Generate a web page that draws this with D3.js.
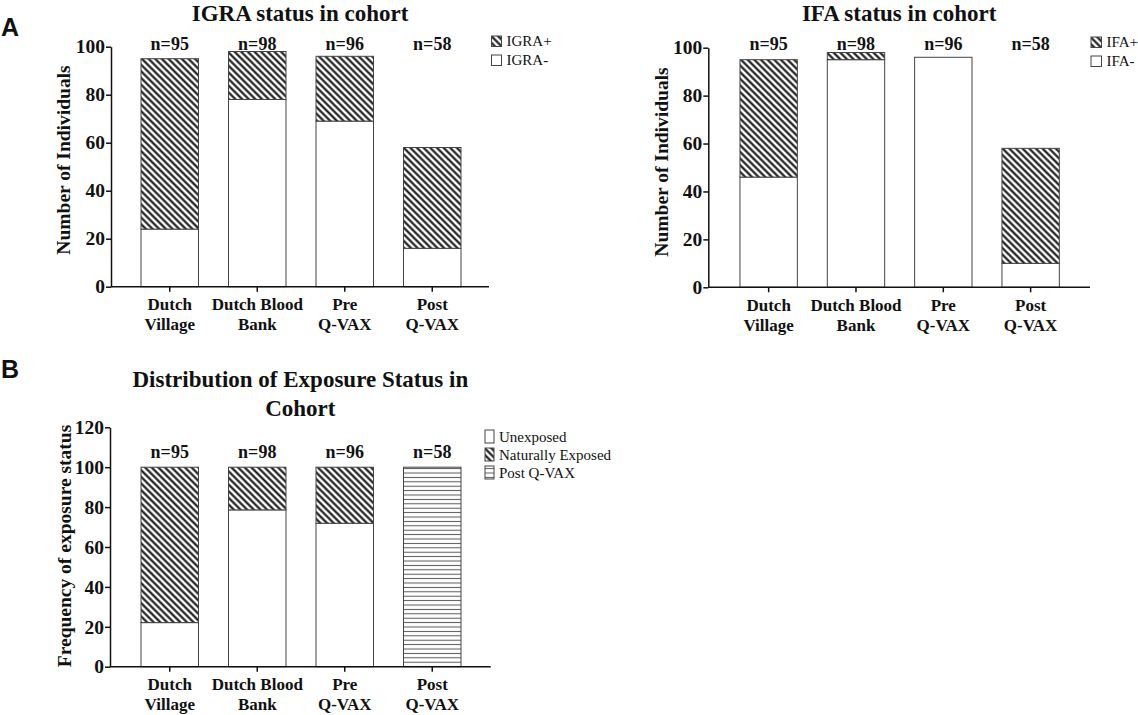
<!DOCTYPE html>
<html>
<head>
<meta charset="utf-8">
<script src="https://cdn.jsdelivr.net/npm/d3@7"></script>
<style>
  body { margin: 0; background: #fff; }
  svg { display: block; }
  text { font-family: "Liberation Serif", "Times New Roman", serif; fill: #111; }
  .panel-letter { font-family: "Liberation Sans", Arial, sans-serif; font-weight: bold; font-size: 25px; }
  .title { font-weight: bold; font-size: 23px; }
  .ylab { font-weight: bold; font-size: 19.5px; }
  .nlab { font-weight: bold; font-size: 18px; }
  .legend text { font-size: 15px; }
  .axis text { font-family: "Liberation Serif", "Times New Roman", serif; font-weight: bold; fill: #111; }
  .axis path, .axis line { stroke: #111; stroke-width: 1.5; }
</style>
</head>
<body>
<main></main>
<script>
const width = 1138;
const height = 715;

// data
const categories = [["Dutch", "Village"], ["Dutch Blood", "Bank"], ["Pre", "Q-VAX"], ["Post", "Q-VAX"]];
const cohortN = [95, 98, 96, 58];

const igraNeg = [24, 78, 69, 16];
const igraPos = [71, 20, 27, 42];

const ifaNeg = [46, 95, 96, 10];
const ifaPos = [49, 3, 0, 48];

const unexposedPct = [22.1, 78.6, 71.9, 0];
const naturalPct = [77.9, 21.4, 28.1, 0];
const postVaxPct = [0, 0, 0, 100];

const countTicks = [0, 20, 40, 60, 80, 100];
const pctTicks = [0, 20, 40, 60, 80, 100, 120];

const svg = d3.select("main")
              .append("svg")
              .attr("width", width)
              .attr("height", height);

const defs = svg.append("defs");

const makePatterns = () => {
    const diag = defs.append("pattern")
                     .attr("id", "diag")
                     .attr("patternUnits", "userSpaceOnUse")
                     .attr("width", 4.7)
                     .attr("height", 4.7)
                     .attr("patternTransform", "rotate(45)");
    diag.append("rect").attr("width", 4.7).attr("height", 4.7).attr("fill", "#fff");
    diag.append("line")
        .attr("x1", 0).attr("x2", 4.7)
        .attr("y1", 2.35).attr("y2", 2.35)
        .attr("stroke", "#111")
        .attr("stroke-width", 2.1);

    const horiz = defs.append("pattern")
                      .attr("id", "horiz")
                      .attr("patternUnits", "userSpaceOnUse")
                      .attr("width", 10)
                      .attr("height", 4.4);
    horiz.append("rect").attr("width", 10).attr("height", 4.4).attr("fill", "#fff");
    horiz.append("line")
         .attr("x1", 0).attr("x2", 10)
         .attr("y1", 2.2).attr("y2", 2.2)
         .attr("stroke", "#555")
         .attr("stroke-width", 1);
};

// one stacked bar panel
const drawPanel = (cfg) => {
    const g = svg.append("g");
    const x = d3.scaleBand()
                .domain(d3.range(categories.length))
                .range(cfg.bandRange)
                .paddingInner(0.343)
                .paddingOuter(0.1715);
    const y = d3.scaleLinear()
                .domain([0, cfg.yMax])
                .range(cfg.yRange);

    // stacked bars, series listed bottom to top
    let base = categories.map(() => 0);
    cfg.series.forEach((s) => {
        const segs = s.values.map((v, i) => ({i: i, y0: base[i], y1: base[i] + v}))
                             .filter((d) => d.y1 > d.y0);
        g.selectAll(null)
         .data(segs)
         .enter()
         .append("rect")
         .attr("x", (d) => x(d.i))
         .attr("width", x.bandwidth())
         .attr("y", (d) => y(d.y1))
         .attr("height", (d) => y(d.y0) - y(d.y1))
         .attr("fill", s.fill)
         .attr("stroke", "#444")
         .attr("stroke-width", 1);
        base = base.map((b, i) => b + s.values[i]);
    });

    // y axis
    g.append("g")
     .attr("class", "axis")
     .attr("transform", `translate(${cfg.axisX},0)`)
     .call(d3.axisLeft(y).tickValues(cfg.ticks).tickSize(5).tickSizeOuter(0).tickPadding(1))
     .selectAll("text")
     .style("font-size", "19.5px");

    // x axis
    const xAxis = g.append("g")
                   .attr("class", "axis")
                   .attr("transform", `translate(0,${cfg.yRange[0]})`)
                   .call(d3.axisBottom(x).tickSize(5).tickSizeOuter(0).tickFormat(""));
    xAxis.select(".domain").remove();
    xAxis.append("line")
         .attr("x1", cfg.axisX)
         .attr("x2", cfg.axisEnd)
         .attr("y1", 0)
         .attr("y2", 0);
    xAxis.selectAll(".tick")
         .append("text")
         .attr("text-anchor", "middle")
         .style("font-size", "17px")
         .selectAll("tspan")
         .data((d) => categories[d])
         .enter()
         .append("tspan")
         .attr("x", 0)
         .attr("y", (d, i) => 23.5 + i * 20)
         .text((d) => d);

    // n labels
    g.selectAll(".nlab")
     .data(cohortN)
     .enter()
     .append("text")
     .attr("class", "nlab")
     .attr("text-anchor", "middle")
     .attr("x", (d, i) => x(i) + x.bandwidth() / 2)
     .attr("y", cfg.nY)
     .text((d) => "n=" + d);

    // title
    const cx = (cfg.axisX + cfg.axisEnd) / 2;
    const t = g.append("text")
               .attr("class", "title")
               .attr("text-anchor", "middle")
               .attr("x", cx)
               .attr("y", cfg.titleY);
    cfg.title.forEach((line, i) => {
        t.append("tspan")
         .attr("x", cx)
         .attr("dy", i === 0 ? 0 : 29)
         .text(line);
    });

    // y label
    g.append("text")
     .attr("class", "ylab")
     .attr("text-anchor", "middle")
     .attr("transform", `translate(${cfg.yLabX},${cfg.yLabY}) rotate(-90)`)
     .text(cfg.yLabel);

    // legend
    const leg = g.append("g").attr("class", "legend");
    cfg.legend.forEach((item, i) => {
        leg.append("rect")
           .attr("x", cfg.legX)
           .attr("y", cfg.legY + i * cfg.legStep)
           .attr("width", cfg.legW)
           .attr("height", cfg.legH)
           .attr("fill", item.fill)
           .attr("stroke", "#444")
           .attr("stroke-width", 1);
        leg.append("text")
           .attr("x", cfg.legX + cfg.legW + 5)
           .attr("y", cfg.legY + i * cfg.legStep + cfg.legH - 1)
           .text(item.label);
    });
};

const driver = () => {
    makePatterns();

    drawPanel({
        bandRange: [126, 476], yMax: 100, yRange: [286.7, 46.7], ticks: countTicks,
        axisX: 111, axisEnd: 489, nY: 50,
        title: ["IGRA status in cohort"], titleY: 21,
        yLabel: "Number of Individuals", yLabX: 70, yLabY: 160,
        series: [{values: igraNeg, fill: "#fff"}, {values: igraPos, fill: "url(#diag)"}],
        legend: [{label: "IGRA+", fill: "url(#diag)"}, {label: "IGRA-", fill: "#fff"}],
        legX: 491.5, legY: 36, legStep: 19, legW: 10, legH: 10.5
    });

    drawPanel({
        bandRange: [725, 1074.3], yMax: 100, yRange: [287.3, 47.7], ticks: countTicks,
        axisX: 708.3, axisEnd: 1090, nY: 50,
        title: ["IFA status in cohort"], titleY: 21,
        yLabel: "Number of Individuals", yLabX: 668, yLabY: 162,
        series: [{values: ifaNeg, fill: "#fff"}, {values: ifaPos, fill: "url(#diag)"}],
        legend: [{label: "IFA+", fill: "url(#diag)"}, {label: "IFA-", fill: "#fff"}],
        legX: 1091, legY: 37, legStep: 19, legW: 10.5, legH: 10.5
    });

    drawPanel({
        bandRange: [126, 476], yMax: 120, yRange: [666.7, 427.3], ticks: pctTicks,
        axisX: 110, axisEnd: 490.7, nY: 458,
        title: ["Distribution of Exposure Status in", "Cohort"], titleY: 387,
        yLabel: "Frequency of exposure status", yLabX: 71, yLabY: 546,
        series: [{values: unexposedPct, fill: "#fff"}, {values: naturalPct, fill: "url(#diag)"},
                 {values: postVaxPct, fill: "url(#horiz)"}],
        legend: [{label: "Unexposed", fill: "#fff"}, {label: "Naturally Exposed", fill: "url(#diag)"},
                 {label: "Post Q-VAX", fill: "url(#horiz)"}],
        legX: 485, legY: 430, legStep: 18, legW: 9, legH: 13
    });

    svg.append("text").attr("class", "panel-letter").attr("x", 1).attr("y", 36).text("A");
    svg.append("text").attr("class", "panel-letter").attr("x", 1).attr("y", 378).text("B");
};

driver();
</script>
</body>
</html>
